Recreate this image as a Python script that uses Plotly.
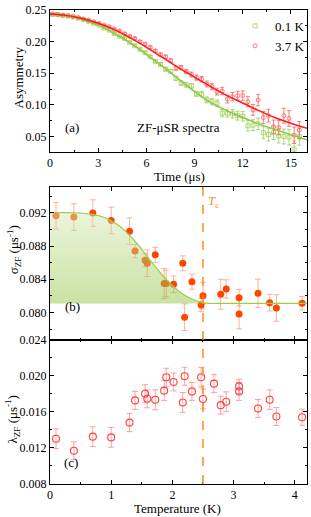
import plotly.graph_objects as go

# ---------------- Panel (a): ZF-muSR spectra ----------------
t_pts = [0.16,0.48,0.80,1.12,1.44,1.76,2.08,2.40,2.72,3.04,3.36,3.68,4.00,4.32,4.64,4.96,5.28,5.60,5.92,6.24,
         6.56,6.88,7.20,7.52,7.84,8.16,8.48,8.80,9.12,9.44,9.76,10.08,10.40,10.72,11.04,11.36,11.68,12.00,12.32,12.64,
         12.96,13.28,13.60,13.92,14.24,14.56,14.88,15.20,15.52]
asym_01K = [0.2432,0.2428,0.2415,0.2405,0.2392,0.2372,0.2348,0.2322,0.2290,0.2262,0.2215,0.2182,0.2130,0.2085,0.2050,
            0.1990,0.1935,0.1880,0.1825,0.1760,0.1690,0.1640,0.1565,0.1530,0.1420,0.1345,0.1318,0.1300,0.1175,0.1170,
            0.1080,0.1050,0.1025,0.0870,0.0870,0.0860,0.0830,0.0820,0.0670,0.0680,0.0700,0.0560,0.0530,0.0560,0.0510,
            0.0500,0.0490,0.0300,0.0500]
asym_37K = [0.2435,0.2428,0.2418,0.2410,0.2395,0.2380,0.2360,0.2338,0.2315,0.2290,0.2262,0.2235,0.2200,0.2170,0.2125,
            0.2085,0.2050,0.2000,0.1960,0.1910,0.1855,0.1795,0.1760,0.1700,0.1580,0.1590,0.1527,0.1480,0.1431,0.1405,
            0.1330,0.1290,0.1210,0.1219,0.1092,0.1130,0.1146,0.1146,0.1050,0.0920,0.1076,0.0800,0.0830,0.0654,0.0640,
            0.0829,0.0786,0.0520,0.0600]
asym_err = [0.0006,0.0006,0.0007,0.0007,0.0008,0.0008,0.0009,0.0009,0.0010,0.0010,
            0.0011,0.0012,0.0013,0.0014,0.0015,0.0016,0.0017,0.0018,0.0020,0.0021,
            0.0023,0.0025,0.0027,0.0029,0.0031,0.0033,0.0035,0.0038,0.0041,0.0044,
            0.0047,0.0050,0.0054,0.0058,0.0062,0.0066,0.0070,0.0075,0.0080,0.0085,
            0.0090,0.0095,0.0100,0.0106,0.0112,0.0118,0.0124,0.0130,0.0136]

t_fit = [0,1,2,3,4,5,6,7,8,9,10,11,12,13,14,15,16]
fit_01K = [0.2437,0.2412,0.2350,0.2260,0.2130,0.1980,0.1800,0.1610,0.1410,0.1210,0.1040,0.0910,0.0800,0.0700,0.0610,0.0530,0.0450]
fit_37K = [0.2437,0.2415,0.2365,0.2290,0.2190,0.2060,0.1910,0.1750,0.1590,0.1440,0.1290,0.1150,0.1030,0.0910,0.0800,0.0710,0.0630]

# ---------------- Panel (b): sigma_ZF vs T ----------------
T_sig = [0.098,0.39,0.70,1.00,1.30,1.39,1.555,1.59,1.72,1.866,1.90,2.02,2.17,2.20,2.32,2.47,2.50,
         2.79,2.88,3.09,3.09,3.40,3.59,3.70,4.12]
sigma = [0.09164,0.09148,0.09196,0.09108,0.08979,0.08739,0.0863,0.08594,0.08694,0.0835,0.0835,0.08340,0.08592,0.07944,0.08371,0.08091,0.08203,
         0.08220,0.08284,0.08179,0.07984,0.08232,0.08119,0.08055,0.08112]
sigma_err = [0.0016,0.0016,0.0016,0.0016,0.0016,0.0008,0.0008,0.0016,0.0009,0.0018,0.0016,0.0010,0.0009,0.0016,0.0009,0.0008,0.0016,
             0.0018,0.0011,0.0010,0.0018,0.0017,0.0010,0.0016,0.0008]
T_sfit = [0,0.4,0.7,0.9,1.1,1.3,1.5,1.7,1.9,2.1,2.3,2.5,2.6,2.8,3.2,3.6,4.0,4.2]
sigma_fit = [0.0920,0.0920,0.0918,0.0914,0.0906,0.0893,0.0876,0.0857,0.0840,0.0826,0.0817,0.0812,0.0811,0.0811,0.0811,0.0811,0.0811,0.0811]
sigma_base = [0.0811]*len(T_sfit)

# ---------------- Panel (c): lambda_ZF vs T ----------------
T_lam = [0.098,0.39,0.70,1.00,1.30,1.39,1.555,1.59,1.72,1.866,1.90,2.02,2.17,2.20,2.32,2.47,2.50,
         2.68,2.79,2.88,3.09,3.09,3.40,3.59,3.70,4.12]
lam = [0.01303,0.01169,0.01326,0.01318,0.01482,0.01729,0.01803,0.01747,0.01736,0.01837,0.01986,0.01934,0.01706,0.01997,0.01829,0.01986,0.01744,
       0.01915,0.01676,0.01714,0.01829,0.01885,0.01639,0.01736,0.01550,0.01542]
lam_err = [0.0011,0.0010,0.0011,0.0011,0.0010,0.0010,0.0010,0.0010,0.0011,0.0011,0.0010,0.0010,0.0011,0.0010,0.0010,0.0011,0.0011,
           0.0010,0.0010,0.0011,0.0010,0.0008,0.0010,0.0011,0.0010,0.0009]

Tc = 2.5

FONT = "Liberation Serif"
GREEN = "#8DC63F"
RED = "#FF1A1A"

fig = go.Figure()

# Panel a
fig.add_trace(go.Scatter(x=t_pts, y=asym_01K, mode="markers", name="0.1 K",
                         marker=dict(symbol="square-open", size=4, color="#A6D465", line=dict(width=0.9)),
                         error_y=dict(type="data", array=asym_err, color="rgba(150,205,90,0.8)", thickness=1, width=2),
                         xaxis="x", yaxis="y"))
fig.add_trace(go.Scatter(x=t_pts, y=asym_37K, mode="markers", name="3.7 K",
                         marker=dict(symbol="circle-open", size=4, color="#FF6B6B", line=dict(width=0.9)),
                         error_y=dict(type="data", array=asym_err, color="rgba(255,90,90,0.8)", thickness=1, width=2),
                         xaxis="x", yaxis="y"))
fig.add_trace(go.Scatter(x=t_fit, y=fit_01K, mode="lines", line=dict(color=GREEN, width=1.5, shape="spline"),
                         showlegend=False, xaxis="x", yaxis="y"))
fig.add_trace(go.Scatter(x=t_fit, y=fit_37K, mode="lines", line=dict(color=RED, width=1.5, shape="spline"),
                         showlegend=False, xaxis="x", yaxis="y"))

# Panel b (points first, the translucent fill is drawn over them)
fig.add_trace(go.Scatter(x=T_sig, y=sigma, mode="markers", showlegend=False,
                         marker=dict(symbol="circle", size=7, color="#FF4500"),
                         error_y=dict(type="data", array=sigma_err, color="rgba(250,140,100,0.65)", thickness=1, width=3),
                         xaxis="x2", yaxis="y2"))
fig.add_trace(go.Scatter(x=T_sfit, y=sigma_base, mode="lines", line=dict(width=0, shape="spline"),
                         showlegend=False, hoverinfo="skip", xaxis="x2", yaxis="y2"))
fig.add_trace(go.Scatter(x=T_sfit, y=sigma_fit, mode="lines", fill="tonexty",
                         line=dict(color="#9CCB4E", width=1.2, shape="spline"),
                         fillgradient=dict(type="vertical", start=0.0811, stop=0.0920,
                                           colorscale=[[0, "rgba(140,195,60,0.47)"], [1, "rgba(215,232,180,0.47)"]]),
                         showlegend=False, xaxis="x2", yaxis="y2"))

# Panel c
fig.add_trace(go.Scatter(x=T_lam, y=lam, mode="markers", showlegend=False,
                         marker=dict(symbol="circle-open", size=7, color="#FF4040", line=dict(width=1.1)),
                         error_y=dict(type="data", array=lam_err, color="rgba(255,90,90,0.55)", thickness=1, width=3),
                         xaxis="x3", yaxis="y3"))

tickfont = dict(family=FONT, size=12, color="black")
titlefont = dict(family=FONT, size=13, color="black")

def ax(**kw):
    base = dict(showline=True, linecolor="black", linewidth=1, mirror="ticks", ticks="inside", ticklen=4,
                tickcolor="black", tickfont=tickfont, showgrid=False, zeroline=False, automargin=False)
    base.update(kw)
    return base

fig.update_layout(
    width=311, height=517,
    margin=dict(l=50, r=4, t=10, b=33, autoexpand=False),
    paper_bgcolor="white", plot_bgcolor="white",
    font=dict(family=FONT, size=12, color="black"),
    xaxis=ax(domain=[0, 1], anchor="y", range=[0, 16], tickvals=[0, 3, 6, 9, 12, 15],
             minor=dict(dtick=1.5, ticks="inside", ticklen=2, tickcolor="black")),
    yaxis=ax(domain=[0.7004, 1.0], anchor="x", range=[0.0255, 0.25], tickvals=[0.05, 0.10, 0.15, 0.20, 0.25],
             tickformat=".2f", minor=dict(dtick=0.025, ticks="inside", ticklen=2, tickcolor="black")),
    xaxis2=ax(domain=[0, 1], anchor="y2", range=[0, 4.2], tickvals=[0, 1, 2, 3, 4], showticklabels=False,
              minor=dict(dtick=0.5, ticks="inside", ticklen=2, tickcolor="black")),
    yaxis2=ax(domain=[0.3038, 0.6266], anchor="x2", range=[0.0767, 0.0951],
              tickvals=[0.080, 0.084, 0.088, 0.092], tickformat=".3f",
              minor=dict(dtick=0.002, ticks="inside", ticklen=2, tickcolor="black")),
    xaxis3=ax(domain=[0, 1], anchor="y3", range=[0, 4.2], tickvals=[0, 1, 2, 3, 4],
              minor=dict(dtick=0.5, ticks="inside", ticklen=2, tickcolor="black")),
    yaxis3=ax(domain=[0, 0.3038], anchor="x3", range=[0.008, 0.024],
              tickvals=[0.008, 0.012, 0.016, 0.020, 0.024], tickformat=".3f",
              minor=dict(dtick=0.002, ticks="inside", ticklen=2, tickcolor="black")),
    legend=dict(x=0.72, y=0.998, xanchor="left", yanchor="top", bgcolor="rgba(0,0,0,0)",
                font=dict(family=FONT, size=13, color="black"), tracegroupgap=0, traceorder="normal"),
    showlegend=True,
)

# Tc dashed line spanning panels b and c
fig.add_shape(type="line", xref="x3", yref="paper", x0=Tc, x1=Tc, y0=0, y1=0.6266,
              line=dict(color="#FF8C1A", width=1.5, dash="dash"))

# Axis titles (placed as paper annotations)
titles = [
    dict(text="Time (μs)", x=0.502, y=0.6495, angle=0),
    dict(text="Temperature (K)", x=0.496, y=-0.052, angle=0),
    dict(text="Asymmetry", x=-0.124, y=0.858, angle=-90),
    dict(text="σ<sub>ZF</sub> (μs<sup>-1</sup>)", x=-0.140, y=0.493, angle=-90),
    dict(text="λ<sub>ZF</sub> (μs<sup>-1</sup>)", x=-0.146, y=0.137, angle=-90),
]
for tt in titles:
    fig.add_annotation(text=tt["text"], xref="paper", yref="paper", x=tt["x"], y=tt["y"], textangle=tt["angle"],
                       showarrow=False, xanchor="center", yanchor="middle", font=titlefont)

annots = [
    dict(text="(a)", xref="x domain", yref="y domain", x=0.052, y=0.106),
    dict(text="ZF-μSR spectra", xref="x domain", yref="y domain", x=0.331, y=0.106),
    dict(text="(b)", xref="x2 domain", yref="y2 domain", x=0.052, y=0.159),
    dict(text="(c)", xref="x3 domain", yref="y3 domain", x=0.047, y=0.081),
]
for a in annots:
    fig.add_annotation(text=a["text"], xref=a["xref"], yref=a["yref"], x=a["x"], y=a["y"],
                       showarrow=False, font=dict(family=FONT, size=13, color="black"))
fig.add_annotation(text="<i>T</i><sub>c</sub>", xref="x2", yref="y2 domain", x=2.67, y=0.975,
                   showarrow=False, font=dict(family=FONT, size=13, color="#FF8C1A"))

fig.write_html("out.html", config={"displayModeBar": False},
               post_script="document.body.style.margin='0px';document.body.style.padding='0px';")
